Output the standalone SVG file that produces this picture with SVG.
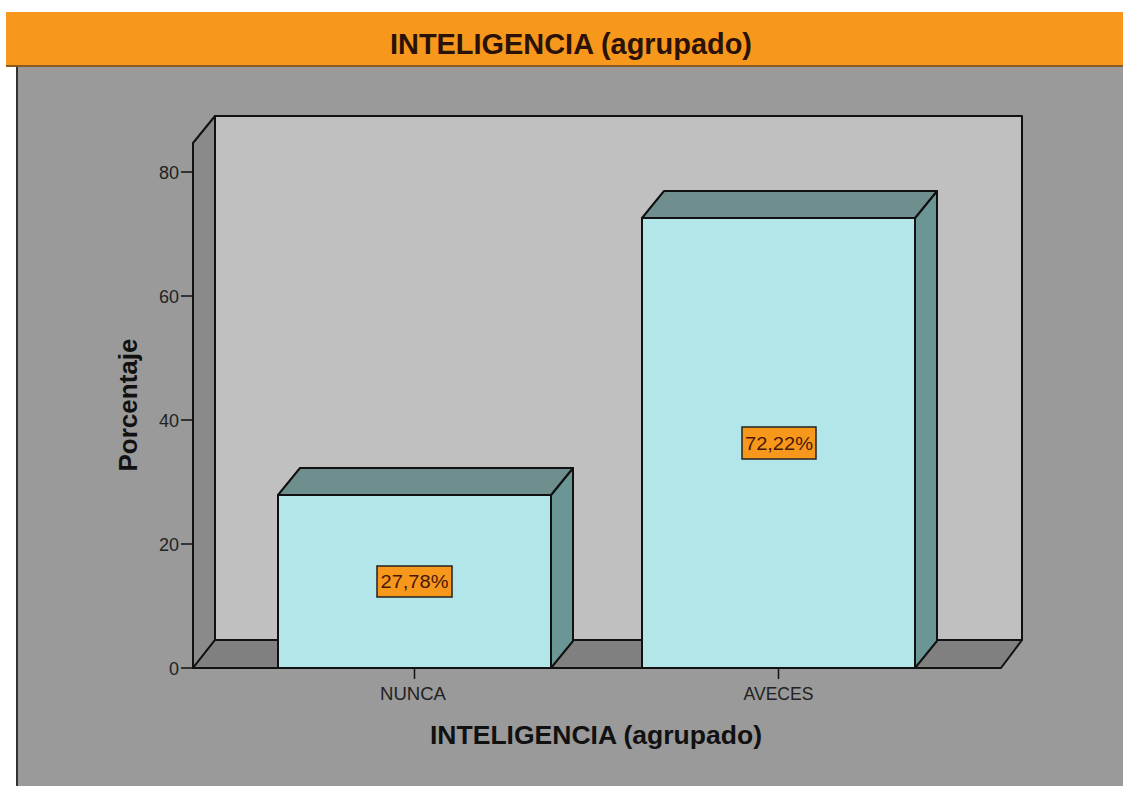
<svg xmlns="http://www.w3.org/2000/svg" width="1123" height="786" viewBox="0 0 1123 786">
<style>
text{font-family:"Liberation Sans",Arial,sans-serif;fill:#111}
.ln{stroke:#111;stroke-width:2;stroke-linejoin:round}
.tick{font-size:18px;text-anchor:end;fill:#222}
.cat{font-size:18px;text-anchor:middle;fill:#222}
.ttl{font-weight:bold;text-anchor:middle}
.lbl{font-size:18px;text-anchor:middle;fill:#4a1808}
.lblbox{fill:#f7981d;stroke:#222;stroke-width:1.5}
.front{fill:#b3e6e8}
.top{fill:#6f8f8f}
.side{fill:#6a9696}
</style>
<rect x="0" y="0" width="1123" height="786" fill="#ffffff"/>
<rect x="17" y="66" width="1106" height="720" fill="#9a9a9a"/>
<line x1="17" y1="66" x2="17" y2="786" stroke="#333" stroke-width="2"/>
<rect x="6" y="12" width="1117" height="54" fill="#f7981d"/>
<line x1="6" y1="66" x2="1123" y2="66" stroke="#8a5a20" stroke-width="2"/>
<text class="ttl" x="571" y="54" font-size="29" textLength="362" lengthAdjust="spacingAndGlyphs" style="fill:#2a1208">INTELIGENCIA (agrupado)</text>

<g id="chart-frame">
  <polygon points="215,116 1022,116 1022,640 215,640" fill="#c0c0c0" class="ln"/>
  <polygon points="193,143 215,116 215,640 193,668" fill="#8a8a8a" class="ln"/>
  <polygon points="193,668 215,640 1022,640 1001,668" fill="#808080" class="ln"/>
</g>

<g id="y-axis">
  <line x1="193" y1="143" x2="193" y2="668" class="ln"/>
  <g stroke="#111" stroke-width="1.5">
    <line x1="181" y1="668" x2="193" y2="668"/>
    <line x1="181" y1="544" x2="193" y2="544"/>
    <line x1="181" y1="420" x2="193" y2="420"/>
    <line x1="181" y1="296" x2="193" y2="296"/>
    <line x1="181" y1="172" x2="193" y2="172"/>
  </g>
  <text class="tick" x="179" y="675">0</text>
  <text class="tick" x="179" y="551">20</text>
  <text class="tick" x="179" y="427">40</text>
  <text class="tick" x="179" y="303">60</text>
  <text class="tick" x="179" y="179">80</text>
  <text class="ttl" font-size="25" textLength="133" lengthAdjust="spacingAndGlyphs" transform="translate(137,405) rotate(-90)">Porcentaje</text>
</g>

<g id="bar-nunca">
  <polygon class="side ln" points="551,495 573,468 573,641 551,668"/>
  <polygon class="top ln" points="278,495 300,468 573,468 551,495"/>
  <rect class="front ln" x="278" y="495" width="273" height="173"/>
  <rect class="lblbox" x="377" y="566" width="75" height="31"/>
  <text class="lbl" x="414.5" y="588" textLength="68" lengthAdjust="spacingAndGlyphs">27,78%</text>
</g>

<g id="bar-aveces">
  <polygon class="side ln" points="915,218 937,191 937,641 915,668"/>
  <polygon class="top ln" points="642,218 664,191 937,191 915,218"/>
  <rect class="front ln" x="642" y="218" width="273" height="450"/>
  <rect class="lblbox" x="742" y="427" width="74" height="32"/>
  <text class="lbl" x="779" y="450" textLength="68" lengthAdjust="spacingAndGlyphs">72,22%</text>
</g>

<g id="x-axis">
  <line x1="193" y1="668" x2="1001" y2="668" class="ln"/>
  <line x1="414.5" y1="668" x2="414.5" y2="679" stroke="#111" stroke-width="1.5"/>
  <line x1="778.5" y1="668" x2="778.5" y2="679" stroke="#111" stroke-width="1.5"/>
  <text class="cat" x="413" y="700" textLength="66" lengthAdjust="spacingAndGlyphs">NUNCA</text>
  <text class="cat" x="778.5" y="700" textLength="70" lengthAdjust="spacingAndGlyphs">AVECES</text>
  <text class="ttl" x="596" y="744" font-size="26" textLength="332" lengthAdjust="spacingAndGlyphs">INTELIGENCIA (agrupado)</text>
</g>
</svg>
